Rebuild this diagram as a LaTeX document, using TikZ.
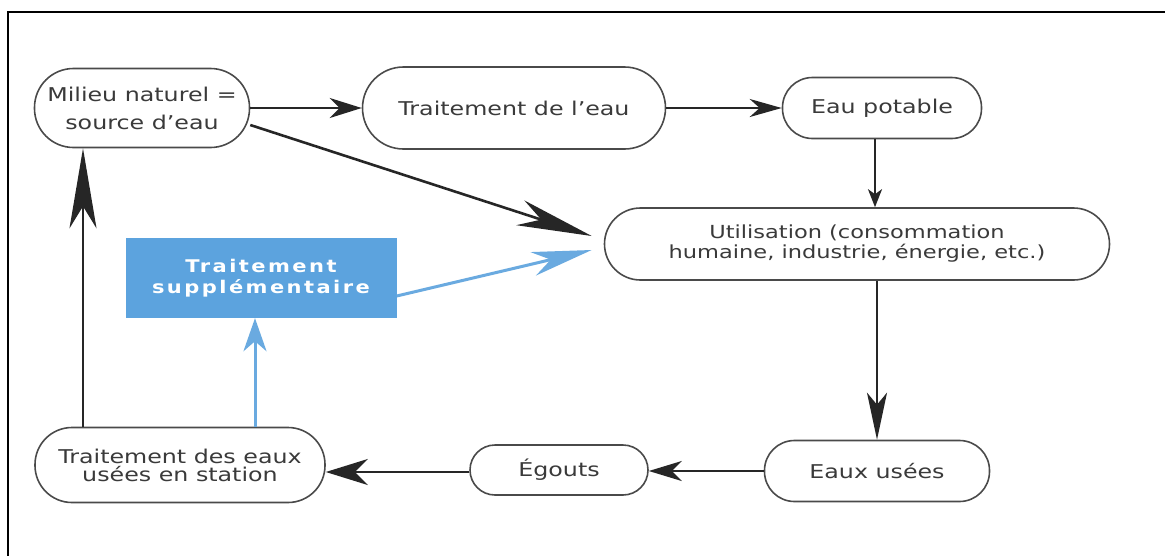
\documentclass[tikz,border=0pt]{standalone}
\usepackage{fontspec}
\setmainfont{DejaVu Sans}[FakeStretch=1.25]
\newfontfamily\supfont{DejaVu Sans Bold}[FakeStretch=1.2,LetterSpace=14]
\usetikzlibrary{arrows.meta}
\definecolor{txt}{HTML}{3A3A3A}
\definecolor{brd}{HTML}{4A4A4A}
\definecolor{bluebox}{HTML}{5CA3DE}
\definecolor{blueline}{HTML}{6AAAE0}
\tikzset{
  pill/.style={draw=brd, line width=1.6pt, fill=white, text=txt, align=center,
    font=\fontsize{19}{28}\selectfont, inner sep=0pt},
  arr/.style={draw=black!85, line width=2.6pt},
  blarr/.style={draw=blueline, line width=3pt},
}
\begin{document}
\begin{tikzpicture}[x=1pt,y=-1pt]
\fill[white] (0,0) rectangle (1165,555);
\useasboundingbox (0,0) rectangle (1165,555);
\draw[line width=2.2pt, black] (8,570) -- (8,12) -- (1175,12);

% nodes
\node[pill, minimum width=215pt, minimum height=79pt, rounded corners=39pt] (mil) at (142,108) {Milieu naturel =\\source d'eau};
\node[pill, minimum width=303pt, minimum height=82pt, rounded corners=41pt] (tre) at (514,108) {Traitement de l'eau};
\node[pill, minimum width=199pt, minimum height=61pt, rounded corners=30pt] (pot) at (882,108) {Eau potable};
\node[pill, minimum width=505pt, minimum height=72pt, rounded corners=36pt, font=\fontsize{18}{20}\selectfont] (uti) at (857,244) {Utilisation (consommation\\humaine, industrie, énergie, etc.)};
\node[pill, minimum width=225pt, minimum height=61pt, rounded corners=30pt] (use) at (877,471) {Eaux usées};
\node[pill, minimum width=178pt, minimum height=50pt, rounded corners=25pt] (ego) at (559,470) {Égouts};
\node[pill, minimum width=290pt, minimum height=75pt, rounded corners=37pt, font=\fontsize{19}{18}\selectfont] (ted) at (180,465) {Traitement des eaux\\usées en station};
\node[fill=bluebox, text=white, align=center, minimum width=271pt, minimum height=80pt, inner sep=0pt,
  font=\supfont\fontsize{17.5}{21}\selectfont] (sup) at (261,278) {Traitement\\supplémentaire};

% connectors
\draw[arr, -{Stealth[length=32pt,width=20pt,inset=10pt]}] (mil.east) -- (mil.east -| tre.west);
\draw[arr, -{Stealth[length=32pt,width=18pt,inset=10pt]}] (tre.east) -- (tre.east -| pot.west);
\draw[arr, line width=2pt, -{Stealth[length=18pt,width=14pt,inset=5pt]}] ([xshift=-7pt]pot.south) -- ([xshift=-7pt]pot.south |- uti.north);
\draw[arr, -{Stealth[length=75pt,width=26pt,inset=22pt]}] ([yshift=-17pt]mil.east) -- ([xshift=-12pt,yshift=8pt]uti.west);
\draw[blarr, -{Stealth[length=60pt,width=24pt,inset=18pt]}] ([yshift=-18pt]sup.east) -- ([xshift=-12pt,yshift=-6pt]uti.west);
\draw[arr, -{Stealth[length=47pt,width=20pt,inset=12pt]}] (use.north |- uti.south) -- (use.north);
\draw[arr, -{Stealth[length=33pt,width=20pt,inset=10pt]}] (use.west) -- (use.west -| ego.east);
\draw[arr, -{Stealth[length=42pt,width=26pt,inset=13pt]}] ([yshift=-2pt]ego.west) -- ([yshift=-2pt]ego.west -| ted.east);
\draw[arr, -{Stealth[length=80pt,width=27pt,inset=22pt]}] ([xshift=-97pt]ted.north) -- ([xshift=-97pt]ted.north |- mil.south);
\draw[blarr, -{Stealth[length=33pt,width=23pt,inset=10pt]}] ([xshift=75pt]ted.north) -- ([xshift=75pt]ted.north |- sup.south);
\end{tikzpicture}
\end{document}
